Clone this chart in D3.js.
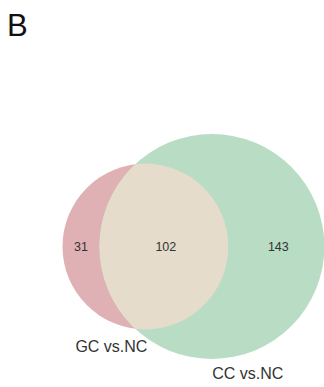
<!DOCTYPE html>
<html>
<head>
<meta charset="utf-8">
<script src="https://cdn.jsdelivr.net/npm/d3@7"></script>
<style>
  html, body { margin: 0; padding: 0; background: #fff; }
  svg { display: block; }
  text { font-family: "Liberation Sans", Arial, sans-serif; }
</style>
</head>
<body>
<svg id="chart" width="324" height="387"></svg>
<script>
// Two-set Venn diagram: exclusive and shared counts
const setNames = ["GC vs.NC", "CC vs.NC"];
const onlyCounts = [31, 143];
const sharedCount = 102;
const setColors = ["#dfb1b4", "#b9dcc4"];
const sharedColor = "#e5dccb";

const totals = onlyCounts.map(c => c + sharedCount);

const svg = d3.select("#chart");

// Circle areas proportional to set sizes
const r = d3.scaleSqrt().domain([0, d3.max(totals)]).range([0, 112.5]);
const r1 = r(totals[0]), r2 = r(totals[1]);

// Area of the lens between two circles at distance d
function lensArea(d, a, b) {
  if (d >= a + b) return 0;
  if (d <= Math.abs(a - b)) return Math.PI * Math.min(a, b) ** 2;
  const x = (d * d + a * a - b * b) / (2 * d);
  const y = d - x;
  const seg = (rr, h) => rr * rr * Math.acos(h / rr) - h * Math.sqrt(rr * rr - h * h);
  return seg(a, x) + seg(b, y);
}

// Find the centre distance that gives the shared area
const targetArea = Math.PI * r1 * r1 * sharedCount / totals[0];
let lo = Math.abs(r1 - r2), hi = r1 + r2;
for (let i = 0; i < 60; i++) {
  const mid = (lo + hi) / 2;
  if (lensArea(mid, r1, r2) > targetArea) lo = mid; else hi = mid;
}
const dist = (lo + hi) / 2;

const cy = 246.5;
const x1 = 62.5 + r1;
const x2 = x1 + dist;

// Clip for the overlap region
const defs = svg.append("defs");
defs.append("clipPath").attr("id", "clipA")
  .append("circle").attr("cx", x1).attr("cy", cy).attr("r", r1);

svg.append("circle").attr("cx", x1).attr("cy", cy).attr("r", r1).attr("fill", setColors[0]);
svg.append("circle").attr("cx", x2).attr("cy", cy).attr("r", r2).attr("fill", setColors[1]);
svg.append("circle").attr("cx", x2).attr("cy", cy).attr("r", r2)
  .attr("fill", sharedColor).attr("clip-path", "url(#clipA)");

// Region boundaries along the centre line
const aLeft = x1 - r1, bLeft = x2 - r2, aRight = x1 + r1, bRight = x2 + r2;
const regionX = [(aLeft + bLeft) / 2, (bLeft + aRight) / 2 + 2, (aRight + bRight) / 2 + 2];
const regionVals = [onlyCounts[0], sharedCount, onlyCounts[1]];

svg.selectAll("text.count")
  .data(regionVals)
  .join("text")
  .attr("class", "count")
  .attr("x", (d, i) => regionX[i])
  .attr("y", cy + 4.5)
  .attr("text-anchor", "middle")
  .attr("font-size", 12.5)
  .attr("fill", "#333")
  .text(d => d);

// Set labels below each circle
const labelPos = [
  { x: x1 - 34, y: cy + r1 + 23 },
  { x: x2 + 36, y: cy + r2 + 20 }
];
svg.selectAll("text.setlabel")
  .data(setNames)
  .join("text")
  .attr("class", "setlabel")
  .attr("x", (d, i) => labelPos[i].x)
  .attr("y", (d, i) => labelPos[i].y)
  .attr("text-anchor", "middle")
  .attr("font-size", 16)
  .attr("fill", "#333")
  .text(d => d);

// Panel letter
svg.append("text")
  .attr("x", 7).attr("y", 36)
  .attr("font-size", 31)
  .attr("fill", "#111")
  .text("B");
</script>
</body>
</html>
